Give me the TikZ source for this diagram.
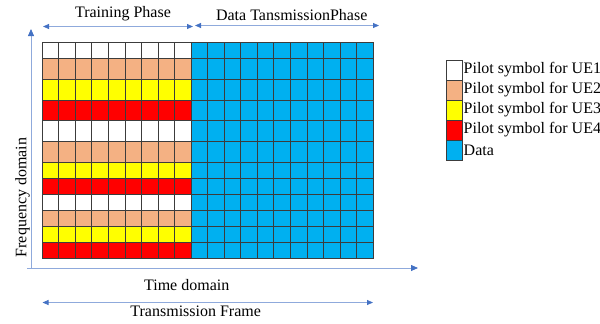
\documentclass[tikz,border=0pt]{standalone}
\usepackage{fontspec}
\setmainfont{Liberation Serif}
\usetikzlibrary{arrows.meta,positioning}

\definecolor{pilotone}{RGB}{255,255,255}
\definecolor{pilottwo}{RGB}{244,177,131}
\definecolor{pilotthree}{RGB}{255,255,0}
\definecolor{pilotfour}{RGB}{255,0,0}
\definecolor{datacol}{RGB}{0,176,240}
\definecolor{axisline}{RGB}{143,170,220}
\definecolor{axishead}{RGB}{68,114,196}
\definecolor{gridline}{RGB}{60,60,60}

\begin{document}
\begin{tikzpicture}[x=1pt, y=-1pt,
    lbl/.style={font=\fontsize{16}{19}\selectfont, inner sep=0pt},
    axis/.style={draw=axisline, line width=0.8pt, -{Triangle[length=7pt,width=6pt,color=axishead]}},
    span/.style={draw=axisline, line width=0.8pt, {Triangle[length=6pt,width=5pt,color=axishead]}-{Triangle[length=6pt,width=5pt,color=axishead]}},
    cell/.style={draw=gridline, line width=0.5pt},
    legbox/.style={draw=gridline, line width=0.5pt, minimum width=16pt, minimum height=20pt, inner sep=0pt, outer sep=0pt}]

\useasboundingbox (0,0) rectangle (600,324);

\foreach \ya/\yb/\c in {42/58.7/pilotone, 58.7/79.3/pilottwo, 79.3/100/pilotthree, 100/120.7/pilotfour,
    120.7/141.3/pilotone, 141.3/162/pilottwo, 162/178/pilotthree, 178/194.7/pilotfour,
    194.7/210.7/pilotone, 210.7/226.7/pilottwo, 226.7/242.7/pilotthree, 242.7/258.7/pilotfour}
{
    \foreach \i in {0,...,8}
        \filldraw [cell, fill=\c] ({42+16.55*\i},\ya) rectangle ({42+16.55*(\i+1)},\yb);
    \foreach \i in {9,...,19}
        \filldraw [cell, fill=datacol] ({42+16.55*\i},\ya) rectangle ({42+16.55*(\i+1)},\yb);
}

\coordinate (fq0) at (31,268);
\coordinate (fq1) at (31,29);
\coordinate (tm0) at (27,268);
\coordinate (tm1) at (418,268);
\coordinate (tp0) at (43,26.5);
\coordinate (tp1) at (193,26.5);
\coordinate (dp0) at (195,25.5);
\coordinate (dp1) at (379,25.5);
\coordinate (fr0) at (42.5,302.5);
\coordinate (fr1) at (373,302.5);

\draw [axis] (fq0) -- (fq1);
\draw [axis] (tm0) -- (tm1);
\draw [span] (tp0) -- (tp1);
\draw [span] (dp0) -- (dp1);
\draw [span] (fr0) -- (fr1);

\node [lbl, anchor=base] (train) at (123,17.5) {Training Phase};
\node [lbl, anchor=base] (datatx) at (291.7,20.7) {Data TansmissionPhase};
\node [lbl, anchor=base] (time) at (186.7,290.7) {Time domain};
\node [lbl, anchor=base] (frame) at (195.7,316.7) {Transmission Frame};
\node [lbl, anchor=base, rotate=90] (freq) at (26.5,197.5) {Frequency domain};

\node [legbox, fill=pilotone] (key1) at (454,70) {};
\node [legbox, fill=pilottwo, below=0pt of key1] (key2) {};
\node [legbox, fill=pilotthree, below=0pt of key2] (key3) {};
\node [legbox, fill=pilotfour, below=0pt of key3] (key4) {};
\node [legbox, fill=datacol, below=0pt of key4] (key5) {};

\node [lbl, right=1.5pt of key1] (txt1) {Pilot symbol for UE1};
\node [lbl, right=1.5pt of key2] (txt2) {Pilot symbol for UE2};
\node [lbl, right=1.5pt of key3] (txt3) {Pilot symbol for UE3};
\node [lbl, right=1.5pt of key4] (txt4) {Pilot symbol for UE4};
\node [lbl, right=1.5pt of key5] (txt5) {Data};

\end{tikzpicture}
\end{document}
